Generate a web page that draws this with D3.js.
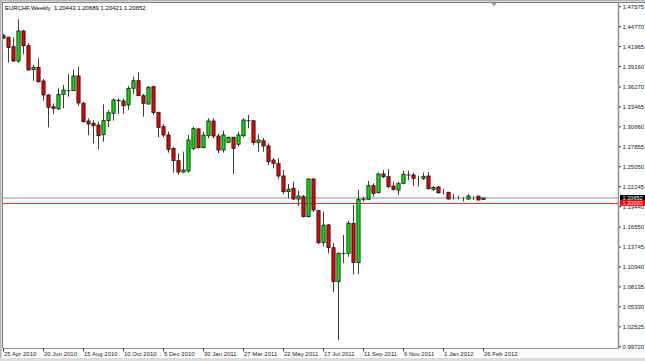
<!DOCTYPE html>
<html><head><meta charset="utf-8">
<script src="https://cdn.jsdelivr.net/npm/d3@7"></script>
<style>html,body{margin:0;padding:0;background:#fff;overflow:hidden}svg{display:block}</style>
</head><body>
<script>
const header = "EURCHF,Weekly  1.20443 1.20689 1.20421 1.20652";
const tickLabels = ["25 Apr 2010","20 Jun 2010","15 Aug 2010","10 Oct 2010","5 Dec 2010","30 Jan 2011","27 Mar 2011","22 May 2011","17 Jul 2011","11 Sep 2011","6 Nov 2011","1 Jan 2012","26 Feb 2012"];
const tickBars = [0,8,16,24,32,40,48,56,64,72,80,88,96];
const yTickValues = ["1.47575","1.44770","1.41965","1.39160","1.36270","1.33465","1.30660","1.27855","1.25050","1.22245","1.19440","1.16550","1.13745","1.10940","1.08135","1.05330","1.02525","0.99720"];
const bidPrice = 1.20652;
const levelPrice = 1.20000;

const openP = [1.43493,1.43268,1.41945,1.39932,1.44155,1.42086,1.38708,1.39046,1.37118,1.35147,
1.33500,1.33219,1.35246,1.35752,1.35752,1.37821,1.33979,1.31488,1.31164,1.30925,
1.29560,1.31530,1.32572,1.34345,1.34303,1.33740,1.36090,1.37160,1.35049,1.33880,
1.36315,1.32712,1.30686,1.29517,1.27617,1.25900,1.24310,1.24450,1.27589,1.30362,
1.27730,1.29419,1.31488,1.29377,1.27406,1.28490,1.29194,1.28208,1.29419,1.31530,
1.31530,1.28434,1.28715,1.27969,1.25999,1.25534,1.23747,1.21537,1.22016,1.20510,
1.20833,1.18018,1.23325,1.18863,1.14359,1.16850,1.13655,1.08870,1.12839,1.12867,
1.17089,1.11572,1.20467,1.20467,1.22382,1.21396,1.24028,1.23648,1.22339,1.21776,
1.22719,1.23887,1.23887,1.23465,1.23395,1.23747,1.21875,1.22199,1.21537,1.21453,
1.20510,1.20510,1.20467,1.20510,1.20861,1.20904,1.20443];
const highP = [1.43733,1.43353,1.43268,1.45802,1.44296,1.42424,1.39370,1.40313,1.37399,1.35246,
1.33979,1.36090,1.36555,1.38103,1.38666,1.39130,1.34204,1.31868,1.31629,1.31389,
1.33838,1.33036,1.34683,1.34683,1.34683,1.36414,1.37723,1.38286,1.35288,1.36414,
1.36456,1.32797,1.31066,1.29982,1.27871,1.26942,1.27167,1.29517,1.30686,1.30503,
1.29982,1.31868,1.31868,1.29757,1.30123,1.29278,1.29278,1.29982,1.31868,1.32332,
1.31629,1.29616,1.29095,1.28349,1.26238,1.26238,1.24591,1.22621,1.22944,1.21678,
1.21073,1.23423,1.23423,1.18961,1.18722,1.16991,1.14359,1.13008,1.15443,1.17455,
1.19665,1.21776,1.20861,1.23043,1.22719,1.24211,1.24591,1.24690,1.22944,1.22944,
1.24493,1.24493,1.24211,1.23789,1.24239,1.24310,1.22339,1.22339,1.21959,1.21537,
1.21213,1.20932,1.20791,1.21171,1.20880,1.20974,1.20689];
const lowP = [1.43029,1.39693,1.39834,1.39693,1.40876,1.38567,1.37160,1.36878,1.34345,1.30601,
1.32473,1.33036,1.33275,1.34908,1.35710,1.33599,1.31249,1.29517,1.28349,1.27505,
1.28574,1.30601,1.31530,1.32473,1.32473,1.33036,1.35288,1.35006,1.32093,1.33810,
1.32332,1.29194,1.29194,1.27026,1.24211,1.23887,1.24127,1.24211,1.27406,1.27645,
1.27645,1.29053,1.29053,1.26942,1.27026,1.28349,1.24028,1.27871,1.29194,1.30460,
1.28110,1.27167,1.27167,1.25295,1.24830,1.23282,1.21171,1.20608,1.20369,1.19524,
1.17934,1.17934,1.18680,1.14176,1.13796,1.12867,1.07420,1.00664,1.11544,1.12388,
1.09883,1.09954,1.20158,1.20369,1.20833,1.21312,1.23423,1.22016,1.21678,1.21073,
1.22579,1.23184,1.22339,1.22241,1.23184,1.21847,1.21636,1.21213,1.21143,1.20439,
1.20439,1.20439,1.20158,1.20369,1.20369,1.20298,1.20421];
const closeP = [1.43170,1.41861,1.39932,1.44155,1.42086,1.38666,1.39046,1.37019,1.35147,1.33416,
1.33275,1.35246,1.35851,1.35760,1.37821,1.34021,1.31389,1.31066,1.30826,1.29419,
1.31530,1.32656,1.34443,1.34373,1.33641,1.36090,1.37160,1.35049,1.33979,1.36231,
1.32684,1.30601,1.29517,1.27505,1.25900,1.24310,1.24591,1.28814,1.30404,1.27730,
1.29517,1.31488,1.29377,1.27406,1.29517,1.29194,1.27645,1.29517,1.31629,1.31520,
1.28434,1.28814,1.27969,1.25759,1.25534,1.23747,1.21537,1.21875,1.20510,1.20932,
1.18018,1.23325,1.18961,1.14359,1.16850,1.13683,1.08870,1.12867,1.12845,1.17089,
1.11572,1.20467,1.20510,1.22382,1.21312,1.24028,1.23648,1.22241,1.21875,1.22719,
1.23986,1.23880,1.23395,1.23465,1.23705,1.21959,1.22156,1.21396,1.21537,1.20510,
1.20510,1.20510,1.20467,1.20932,1.20861,1.20369,1.20652];

const W = 645, H = 361;
const plotL = 3, plotR = 618, plotT = 3, plotB = 348;
const FONT = "'Liberation Sans', Arial, sans-serif";

const svg = d3.select("body").append("svg").attr("width", W).attr("height", H);
svg.append("rect").attr("width", W).attr("height", H).attr("fill", "#fff");

const x = d3.scaleLinear().domain([0, 96]).range([3.3, 483.3]);
const y = d3.scaleLinear().domain([0.99720, 1.47575]).range([346.7, 6.7]);

// window frame
svg.append("rect").attr("x", 0).attr("y", 0).attr("width", W).attr("height", 1.5).attr("fill", "#b4b4b4");
svg.append("line").attr("x1", 0).attr("x2", W).attr("y1", 2.5).attr("y2", 2.5).attr("stroke", "#808080");
svg.append("rect").attr("x", 0).attr("y", 0).attr("width", 1.5).attr("height", H).attr("fill", "#b4b4b4");
svg.append("line").attr("x1", 2.5).attr("x2", 2.5).attr("y1", 2).attr("y2", plotB).attr("stroke", "#808080");
svg.append("rect").attr("x", 0).attr("y", 358).attr("width", W).attr("height", 3).attr("fill", "#dcdcdc");

// clip
svg.append("clipPath").attr("id", "plotclip").append("rect")
  .attr("x", plotL).attr("y", plotT).attr("width", plotR - plotL).attr("height", plotB - plotT);
const plot = svg.append("g").attr("clip-path", "url(#plotclip)");

// bid line and level line
plot.append("line").attr("x1", plotL).attr("x2", plotR)
  .attr("y1", y(bidPrice)).attr("y2", y(bidPrice))
  .attr("stroke", "#c8c8c8").attr("stroke-width", 2);
plot.append("line").attr("x1", plotL).attr("x2", plotR)
  .attr("y1", Math.round(y(levelPrice)) + 0.5).attr("y2", Math.round(y(levelPrice)) + 0.5)
  .attr("stroke", "#f03030").attr("stroke-width", 1);

// candles
const idx = d3.range(openP.length);
const cx = i => Math.round(x(i)) + 0.5;
plot.append("g").selectAll("line").data(idx).join("line")
  .attr("x1", cx).attr("x2", cx)
  .attr("y1", i => y(highP[i])).attr("y2", i => y(lowP[i]))
  .attr("stroke", "#3c3c3c").attr("stroke-width", 1);
plot.append("g").selectAll("rect").data(idx).join("rect")
  .attr("x", i => cx(i) - 1.6).attr("width", 3.2)
  .attr("y", i => y(Math.max(openP[i], closeP[i])))
  .attr("height", i => Math.abs(y(openP[i]) - y(closeP[i])))
  .attr("fill", i => closeP[i] >= openP[i] ? "#00e600" : "#e60000")
  .attr("stroke", "#111").attr("stroke-width", 0.8);

// axes lines
svg.append("line").attr("x1", plotR + 0.5).attr("x2", plotR + 0.5).attr("y1", 2).attr("y2", plotB + 1)
  .attr("stroke", "#909090").attr("stroke-width", 1.5);
svg.append("line").attr("x1", plotL).attr("x2", plotR).attr("y1", plotB + 0.5).attr("y2", plotB + 0.5)
  .attr("stroke", "#909090");

// chart shift marker
svg.append("path").attr("d", "M491.5,3 L496.5,3 L494,6.5 Z").attr("fill", "#a0a0a0");

// header
svg.append("text").attr("x", 5).attr("y", 9.5)
  .attr("font-family", FONT).attr("font-size", 6).attr("fill", "#000")
  .style("white-space", "pre").text(header);

// y axis ticks
const ya = svg.append("g");
yTickValues.forEach(v => {
  const yy = y(+v);
  ya.append("line").attr("x1", plotR + 1).attr("x2", plotR + 3).attr("y1", yy).attr("y2", yy).attr("stroke", "#333");
  ya.append("text").attr("x", 622.5).attr("y", yy + 2.1)
    .attr("font-family", FONT).attr("font-size", 6).attr("fill", "#222").text(v);
});

// price boxes
const by = y(bidPrice);
svg.append("rect").attr("x", 620).attr("y", by - 3).attr("width", 25).attr("height", 5.5).attr("fill", "#000");
svg.append("text").attr("x", 622.5).attr("y", by + 1.7).attr("font-family", FONT).attr("font-size", 5.6).attr("fill", "#fff").text(bidPrice.toFixed(5));
const ly = y(levelPrice);
svg.append("rect").attr("x", 620).attr("y", ly - 2.6).attr("width", 25).attr("height", 5.8).attr("fill", "#f00000");
svg.append("text").attr("x", 622.5).attr("y", ly + 2.5).attr("font-family", FONT).attr("font-size", 5.6).attr("fill", "#fff").text(levelPrice.toFixed(5));

// x axis ticks
const xa = svg.append("g");
tickBars.forEach((b, k) => {
  const xx = Math.round(x(b)) + 0.5;
  xa.append("line").attr("x1", xx).attr("x2", xx).attr("y1", plotB).attr("y2", plotB + 3.5).attr("stroke", "#333");
  xa.append("text").attr("x", xx + 0.5).attr("y", 356.3)
    .attr("font-family", FONT).attr("font-size", 6).attr("fill", "#222").text(tickLabels[k]);
});
</script>
</body></html>
